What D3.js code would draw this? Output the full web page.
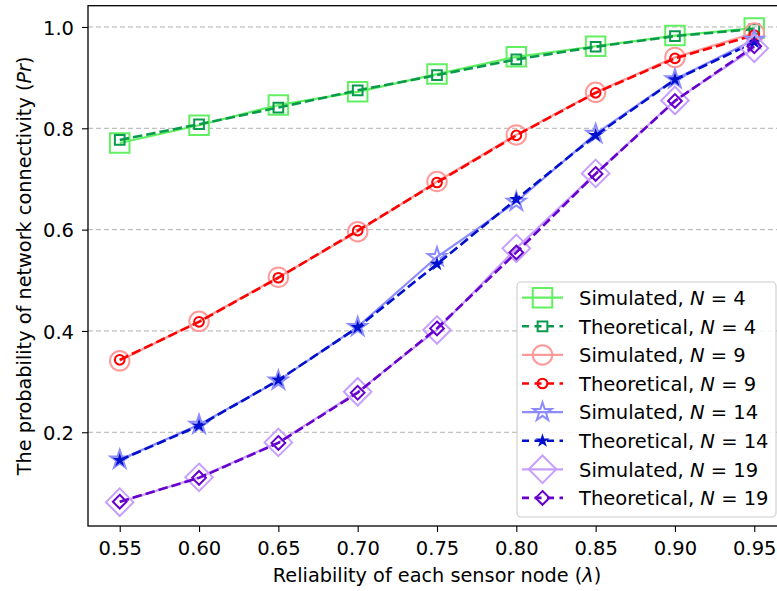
<!DOCTYPE html>
<html>
<head>
<meta charset="utf-8">
<script src="https://cdn.jsdelivr.net/npm/d3@7"></script>
<style>
  html, body { margin: 0; padding: 0; background: #fff; }
  svg { display: block; font-family: "DejaVu Sans", sans-serif; }
</style>
</head>
<body>
<svg id="chart" width="777" height="591"></svg>
<script>
// Reliability of each sensor node (x values)
const lambda = [0.55, 0.60, 0.65, 0.70, 0.75, 0.80, 0.85, 0.90, 0.95];

// Probability of network connectivity, simulated and theoretical
const simN4   = [0.771, 0.806, 0.846, 0.872, 0.907, 0.941, 0.962, 0.983, 0.998];
const theoN4  = [0.777, 0.808, 0.841, 0.875, 0.905, 0.936, 0.961, 0.982, 0.996];
const simN9   = [0.341, 0.419, 0.506, 0.596, 0.695, 0.787, 0.871, 0.940, 0.988];
const theoN9  = [0.343, 0.418, 0.505, 0.598, 0.693, 0.786, 0.870, 0.938, 0.984];
const simN14  = [0.146, 0.215, 0.302, 0.408, 0.546, 0.655, 0.789, 0.897, 0.975];
const theoN14 = [0.145, 0.213, 0.303, 0.407, 0.532, 0.660, 0.786, 0.896, 0.970];
const simN19  = [0.062, 0.111, 0.180, 0.280, 0.402, 0.563, 0.711, 0.855, 0.958];
const theoN19 = [0.063, 0.110, 0.179, 0.278, 0.405, 0.555, 0.710, 0.854, 0.962];

// Axis ticks
const xTicks = [0.55, 0.60, 0.65, 0.70, 0.75, 0.80, 0.85, 0.90, 0.95];
const yTicks = [0.2, 0.4, 0.6, 0.8, 1.0];

// Series in drawing order
const seriesList = [
  { label: "Simulated",   n: 4,  values: simN4,   color: "#62f062", marker: "square",  size: 19.5, sim: true },
  { label: "Theoretical", n: 4,  values: theoN4,  color: "#0a9a4c", marker: "square",  size: 9.7,  sim: false },
  { label: "Simulated",   n: 9,  values: simN9,   color: "#ff9a9a", marker: "circle",  size: 19.5, sim: true },
  { label: "Theoretical", n: 9,  values: theoN9,  color: "#ff0000", marker: "circle",  size: 9.7,  sim: false },
  { label: "Simulated",   n: 14, values: simN14,  color: "#8c8cff", marker: "star",    size: 19.5, sim: true },
  { label: "Theoretical", n: 14, values: theoN14, color: "#0010cc", marker: "star",    size: 8.5,  sim: false },
  { label: "Simulated",   n: 19, values: simN19,  color: "#c7a0ff", marker: "diamond", size: 19.5, sim: true },
  { label: "Theoretical", n: 19, values: theoN19, color: "#6600cc", marker: "diamond", size: 9.7,  sim: false }
];

const FONT_TICK = "19.5px";
const FONT_LABEL = "19.3px";
const FONT_LEGEND = "19.5px";

const svg = d3.select("#chart");

// Plot area (the right edge of the axes lies just past the canvas)
const plot = { left: 88, right: 786, top: 5.7, bottom: 526 };

const x = d3.scaleLinear().domain([0.53, 0.97]).range([plot.left, plot.right]);
const y = d3.scaleLinear().domain([0.015, 1.042]).range([plot.bottom, plot.top]);

// Marker path builders, sized like matplotlib markers (size = markersize in px)
function markerPath(type, s) {
  const p = d3.path();
  const h = s / 2;
  if (type === "square") {
    p.rect(-h, -h, s, s);
  } else if (type === "circle") {
    p.arc(0, 0, h, 0, 2 * Math.PI);
    p.closePath();
  } else if (type === "diamond") {
    const d = h * Math.SQRT2;
    p.moveTo(0, -d); p.lineTo(d, 0); p.lineTo(0, d); p.lineTo(-d, 0); p.closePath();
  } else if (type === "star") {
    const inner = h * 0.381966;
    for (let i = 0; i < 10; i++) {
      const r = i % 2 === 0 ? h : inner;
      const a = -Math.PI / 2 + i * Math.PI / 5;
      const px = r * Math.cos(a), py = r * Math.sin(a);
      if (i === 0) p.moveTo(px, py); else p.lineTo(px, py);
    }
    p.closePath();
  }
  return p.toString();
}

// Horizontal grid lines
svg.append("g")
  .selectAll("line")
  .data(yTicks)
  .join("line")
  .attr("x1", plot.left).attr("x2", plot.right)
  .attr("y1", d => y(d)).attr("y2", d => y(d))
  .attr("stroke", "#b0b0b0")
  .attr("stroke-width", 1)
  .attr("stroke-dasharray", "5,3");

// Axes
const xAxis = d3.axisBottom(x).tickValues(xTicks).tickFormat(d3.format(".2f")).tickSize(6).tickPadding(4);
const yAxis = d3.axisLeft(y).tickValues(yTicks).tickFormat(d3.format(".1f")).tickSize(6).tickPadding(8);

const gx = svg.append("g").attr("transform", `translate(0,${plot.bottom})`).call(xAxis);
const gy = svg.append("g").attr("transform", `translate(${plot.left},0)`).call(yAxis);
[gx, gy].forEach(g => {
  g.select(".domain").remove();
  g.selectAll(".tick line").attr("stroke", "#000").attr("stroke-width", 1.1);
  g.selectAll(".tick text")
    .attr("fill", "#000")
    .style("font-family", "'DejaVu Sans', sans-serif")
    .style("font-size", FONT_TICK);
});
gx.selectAll(".tick text").attr("dy", "0.95em");
gy.selectAll(".tick text").attr("dy", "0.37em");

// Axes frame (spines)
svg.append("rect")
  .attr("x", plot.left).attr("y", plot.top)
  .attr("width", plot.right - plot.left).attr("height", plot.bottom - plot.top)
  .attr("fill", "none").attr("stroke", "#000").attr("stroke-width", 1.3);

const line = d3.line().x((d, i) => x(lambda[i])).y(d => y(d));

const dataLayer = svg.append("g");

seriesList.forEach(s => {
  const g = dataLayer.append("g");
  g.append("path")
    .datum(s.values)
    .attr("d", line)
    .attr("fill", "none")
    .attr("stroke", s.color)
    .attr("stroke-width", s.sim ? 2.2 : 2.6)
    .attr("stroke-dasharray", s.sim ? null : "9.5,4")
    .attr("stroke-linejoin", "round");
  g.selectAll("path.marker")
    .data(s.values)
    .join("path")
    .attr("class", "marker")
    .attr("transform", (d, i) => `translate(${x(lambda[i])},${y(d)})`)
    .attr("d", markerPath(s.marker, s.size))
    .attr("fill", (!s.sim && s.marker === "star") ? s.color : "none")
    .attr("stroke", s.color)
    .attr("stroke-width", 2);
});

// Axis labels
svg.append("text")
  .attr("x", (plot.left + plot.right) / 2)
  .attr("y", 582)
  .attr("text-anchor", "middle")
  .style("font-size", FONT_LABEL)
  .call(t => {
    t.append("tspan").text("Reliability of each sensor node (");
    t.append("tspan").style("font-style", "italic").text("λ");
    t.append("tspan").text(")");
  });

svg.append("text")
  .attr("transform", `translate(31,${(plot.top + plot.bottom) / 2}) rotate(-90)`)
  .attr("text-anchor", "middle")
  .style("font-size", FONT_LABEL)
  .call(t => {
    t.append("tspan").text("The probability of network connectivity (");
    t.append("tspan").style("font-style", "italic").text("Pr");
    t.append("tspan").text(")");
  });

// Legend
const legend = { x: 517, y: 282, w: 259, h: 235, row0: 297.7, step: 28.6 };
const lg = svg.append("g");
lg.append("rect")
  .attr("x", legend.x).attr("y", legend.y)
  .attr("width", legend.w).attr("height", legend.h)
  .attr("rx", 4)
  .attr("fill", "#fff").attr("fill-opacity", 0.85)
  .attr("stroke", "#cccccc").attr("stroke-width", 1.1);

seriesList.forEach((s, i) => {
  const cy = legend.row0 + i * legend.step;
  const row = lg.append("g");
  row.append("line")
    .attr("x1", 522).attr("x2", 563)
    .attr("y1", cy).attr("y2", cy)
    .attr("stroke", s.color)
    .attr("stroke-width", s.sim ? 2.2 : 2.6)
    .attr("stroke-dasharray", s.sim ? null : "7,5.5");
  row.append("path")
    .attr("transform", `translate(542.5,${cy})`)
    .attr("d", markerPath(s.marker, s.size))
    .attr("fill", (!s.sim && s.marker === "star") ? s.color : "none")
    .attr("stroke", s.color)
    .attr("stroke-width", 2);
  row.append("text")
    .attr("x", 579).attr("y", cy + 7.2)
    .style("font-size", FONT_LEGEND)
    .call(t => {
      t.append("tspan").text(`${s.label}, `);
      t.append("tspan").style("font-style", "italic").text("N");
      t.append("tspan").text(` = ${s.n}`);
    });
});
</script>
</body>
</html>
